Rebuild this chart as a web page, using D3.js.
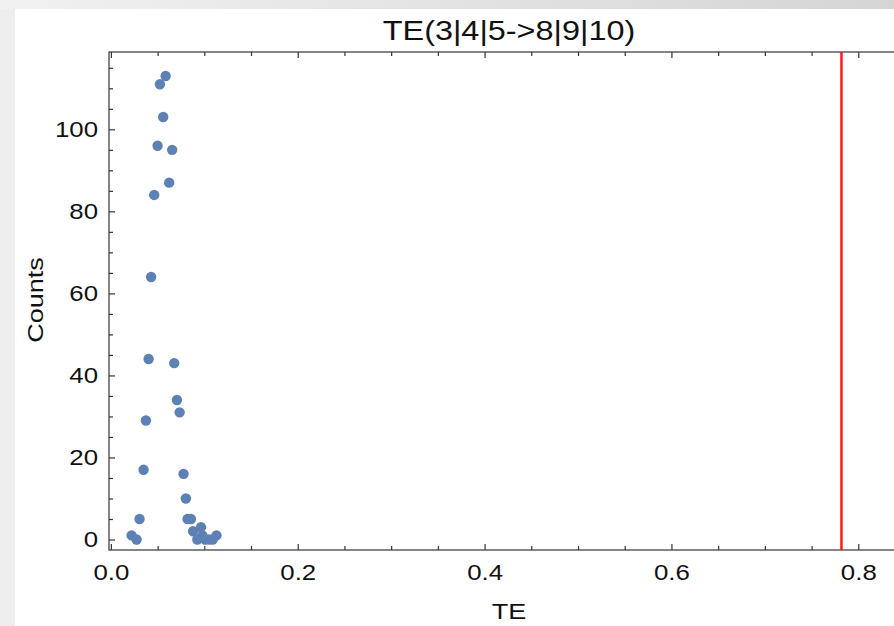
<!DOCTYPE html>
<html>
<head>
<meta charset="utf-8">
<script src="https://cdn.jsdelivr.net/npm/d3@7"></script>
<style>
    body { margin: 0; background: #efefef; }
    text { font-family: "Liberation Sans", Arial, sans-serif; fill: #111; }
</style>
</head>
<body>
<div id="chart"></div>
<script>
// TE values and their counts
const teValues = [0.0586, 0.0525, 0.056, 0.050, 0.0656, 0.0624, 0.0464, 0.0431, 0.0404, 0.0678,
    0.0707, 0.0736, 0.0375, 0.035, 0.0778, 0.0803, 0.0307, 0.0821, 0.0857, 0.0222, 0.0275,
    0.088, 0.0925, 0.0965, 0.098, 0.101, 0.105, 0.109, 0.113];
const counts = [113, 111, 103, 96, 95, 87, 84, 64, 44, 43,
    34, 31, 29, 17, 16, 10, 5, 5, 5, 1, 0,
    2, 0, 3, 1, 0, 0, 0, 1];
const observedTE = 0.782;

const xTicks = [0, 0.2, 0.4, 0.6, 0.8];
const yTicks = [0, 20, 40, 60, 80, 100];
const title = "TE(3|4|5->8|9|10)";

const width = 894,
    height = 626,
    margin = { left: 109, top: 52, right: -11, bottom: 76 };

const chartWidth = width - margin.left - margin.right;
const chartHeight = height - margin.top - margin.bottom;

const xScale = d3.scaleLinear().domain([-0.002, 0.85]).range([0, chartWidth]);
const yScale = d3.scaleLinear().domain([-2.56, 118.85]).range([chartHeight, 0]);

const svg = d3.select("#chart").append("svg")
    .attr("width", width)
    .attr("height", height);

// grey window border with a gradient on the top strip
const grad = svg.append("defs").append("linearGradient").attr("id", "topGrad");
grad.append("stop").attr("offset", "0%").attr("stop-color", "#f1f1f1");
grad.append("stop").attr("offset", "100%").attr("stop-color", "#d5d5d5");

svg.append("rect").attr("width", width).attr("height", height).attr("fill", "#eeeeee");
svg.append("rect").attr("width", width).attr("height", 9).attr("fill", "url(#topGrad)");
svg.append("rect").attr("x", 15).attr("y", 9).attr("width", width - 15).attr("height", height - 9).attr("fill", "#fff");

const g = svg.append("g")
    .attr("transform", "translate(" + margin.left + "," + margin.top + ")");

// frame
g.append("rect")
    .attr("width", chartWidth)
    .attr("height", chartHeight)
    .attr("fill", "none")
    .attr("stroke", "#444")
    .attr("stroke-width", 1.3);

// axes, ticks pointing inwards
const xMinor = d3.range(0, 0.86, 0.05).filter((d) => Math.round(d * 100) % 20 !== 0);
const yMinor = d3.range(0, 119, 5).filter((d) => d % 20 !== 0);

function addAxis(axis, transform) {
    const a = g.append("g").attr("transform", transform).call(axis);
    a.select(".domain").remove();
    a.selectAll("line").attr("stroke", "#333").attr("stroke-width", 1.2);
    a.selectAll("text")
        .attr("font-size", 21.5)
        .attr("fill", "#111");
    return a;
}

addAxis(d3.axisBottom(xScale).tickValues(xTicks).tickFormat(d3.format(".1f"))
    .tickSizeInner(-6).tickSizeOuter(0).tickPadding(15), "translate(0," + chartHeight + ")");
addAxis(d3.axisBottom(xScale).tickValues(xMinor).tickFormat("")
    .tickSizeInner(-4).tickSizeOuter(0), "translate(0," + chartHeight + ")");
addAxis(d3.axisTop(xScale).tickValues(xTicks).tickFormat("")
    .tickSizeInner(-6).tickSizeOuter(0), "translate(0,0)");
addAxis(d3.axisTop(xScale).tickValues(xMinor).tickFormat("")
    .tickSizeInner(-4).tickSizeOuter(0), "translate(0,0)");
addAxis(d3.axisLeft(yScale).tickValues(yTicks)
    .tickSizeInner(-6).tickSizeOuter(0).tickPadding(11), "translate(0,0)");
addAxis(d3.axisLeft(yScale).tickValues(yMinor).tickFormat("")
    .tickSizeInner(-4).tickSizeOuter(0), "translate(0,0)");

// points
g.append("g").selectAll("circle")
    .data(teValues.map((d, i) => ({ te: d, count: counts[i] })))
    .enter().append("circle")
    .attr("cx", (d) => xScale(d.te))
    .attr("cy", (d) => yScale(d.count))
    .attr("r", 5.2)
    .attr("fill", "#5e81b5");

// observed TE marker
g.append("line")
    .attr("x1", xScale(observedTE))
    .attr("x2", xScale(observedTE))
    .attr("y1", 0)
    .attr("y2", chartHeight)
    .attr("stroke", "#ff1a1a")
    .attr("stroke-width", 2.5);

// titles
svg.append("text")
    .attr("x", 509)
    .attr("y", 40)
    .attr("text-anchor", "middle")
    .attr("font-size", 27)
    .text(title);

svg.append("text")
    .attr("x", 509)
    .attr("y", 619)
    .attr("text-anchor", "middle")
    .attr("font-size", 22.5)
    .text("TE");

svg.append("text")
    .attr("transform", "translate(43,300) rotate(-90)")
    .attr("text-anchor", "middle")
    .attr("font-size", 22.5)
    .text("Counts");

// the picture's font is wider than Liberation Sans: stretch every label a bit
svg.selectAll("text").each(function() {
    const len = this.getComputedTextLength();
    if (len > 0) {
        d3.select(this)
            .attr("textLength", len * 1.2)
            .attr("lengthAdjust", "spacingAndGlyphs");
    }
});
</script>
</body>
</html>
